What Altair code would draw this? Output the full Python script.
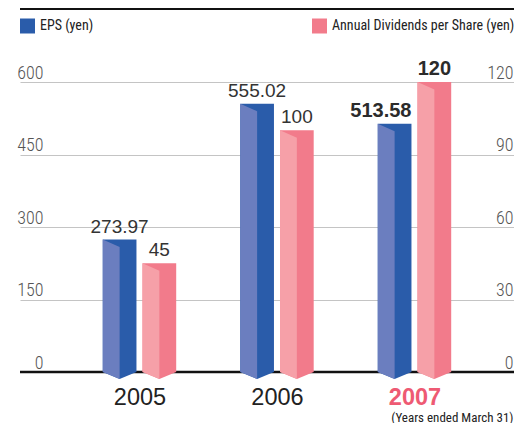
import altair as alt
import pandas as pd

# ---- data ----
years = [2005, 2006, 2007]
eps = [273.97, 555.02, 513.58]
dividends = [45, 100, 120]
eps_labels = ["273.97", "555.02", "513.58"]
div_labels = ["45", "100", "120"]
eps_ticks = [0, 150, 300, 450, 600]
div_ticks = [0, 30, 60, 90, 120]
highlight_year = 2007
eps_name = "EPS (yen)"
div_name = "Annual Dividends per Share (yen)"
footnote = "(Years ended March 31)"

# ---- layout / style ----
W, H = 494, 290
PAD_TOP = 74
PX_PER_YEAR = 137.5
X0 = 2004.131
X_DOMAIN = [X0, X0 + W / PX_PER_YEAR]
EPS_MAX, DIV_MAX = 600, 120
GAP = 0.022
BW = 0.245
SLANT_PX = 7.5
TIP_PX = 7
NARROW = "Roboto Condensed, sans-serif"
SANS = "Liberation Sans, Arial, sans-serif"
EPS_DARK, EPS_LIGHT = "#2a5caa", "#6b7ebf"
DIV_DARK, DIV_LIGHT = "#f27b8b", "#f6a0a8"
HL_COLOR = "#ee5a73"


def faces(values, side, vmax):
    upp = vmax / H
    s = SLANT_PX * upp
    t = TIP_PX * upp
    dark, light = [], []
    for yr, v in zip(years, values):
        L = yr - GAP - BW if side < 0 else yr + GAP
        R = L + BW
        C = (L + R) / 2
        dark += [dict(bar=yr, x=L, top=v, bot=0), dict(bar=yr, x=C, top=v, bot=-t),
                 dict(bar=yr, x=R, top=v, bot=0)]
        light += [dict(bar=yr, x=L, top=v, bot=0), dict(bar=yr, x=C, top=v - s, bot=-t)]
    return pd.DataFrame(dark), pd.DataFrame(light)


def label_frame(values, labels, side):
    rows = []
    for yr, v, lab in zip(years, values, labels):
        L = yr - GAP - BW if side < 0 else yr + GAP
        R = L + BW
        rows.append(dict(year=yr, xc=(L + R) / 2, xr=R, value=v, label=lab,
                         hl=(yr == highlight_year)))
    return pd.DataFrame(rows)


x_axis = alt.Axis(
    values=years, format="d", domain=False, ticks=False, grid=False,
    labelFont=SANS, labelFontSize=23.5, labelPadding=32, labelBaseline="alphabetic",
    labelColor={"condition": {"test": f"datum.value == {highlight_year}", "value": HL_COLOR}, "value": "#222"},
    labelFontWeight={"condition": {"test": f"datum.value == {highlight_year}", "value": "bold"}, "value": "normal"},
    title=footnote, titleFont=NARROW, titleFontSize=13, titleFontWeight="normal",
    titleColor="#222", titleX=W - 1, titleY=49, titleAlign="right", titleBaseline="alphabetic",
)
x_scale = alt.Scale(domain=X_DOMAIN, nice=False, zero=False)

eps_axis = alt.Axis(
    orient="left", values=eps_ticks, title=None, domain=False, ticks=False,
    grid=True, gridColor="#c4c4c4", gridWidth=1.2,
    labelAlign="right", labelPadding=-23, labelBaseline="alphabetic", labelOffset=-4,
    labelFont=NARROW, labelFontSize=18, labelFontWeight=300, labelColor="#555",
)
div_axis = alt.Axis(
    orient="right", values=div_ticks, title=None, domain=False, ticks=False, grid=False,
    labelAlign="right", labelPadding=-1, labelBaseline="alphabetic", labelOffset=-4,
    labelFont=NARROW, labelFontSize=18, labelFontWeight=300, labelColor="#555",
)
eps_scale = alt.Scale(domain=[0, EPS_MAX], nice=False, zero=False)
div_scale = alt.Scale(domain=[0, DIV_MAX], nice=False, zero=False)


def legend(xpos):
    return alt.Legend(orient="none", legendX=xpos, legendY=-63.5, title=None,
                      symbolType="square", symbolSize=225, symbolStrokeWidth=0,
                      symbolOpacity=1, labelFont=NARROW, labelFontSize=14,
                      labelColor="#222", labelOffset=5, padding=0, labelLimit=0)


def series_layer(values, labels, side, vmax, scale, axis, dark_c, light_c, name, leg_x, with_rule):
    dark_df, light_df = faces(values, side, vmax)
    dark_df["series"] = name
    lab_df = label_frame(values, labels, side)
    X = lambda f: alt.X(f, type="quantitative", scale=x_scale, axis=x_axis)
    Y = lambda f: alt.Y(f, type="quantitative", scale=scale, axis=axis)
    layers = []
    if with_rule:
        layers.append(
            alt.Chart(pd.DataFrame({"v": [0]})).mark_rule(color="#111", strokeWidth=2.6)
            .encode(y=Y("v"))
        )
    layers.append(
        alt.Chart(dark_df).mark_area(interpolate="linear").encode(
            x=X("x"), y=Y("top"), y2="bot", detail="bar:N",
            color=alt.Color("series:N", scale=alt.Scale(domain=[name], range=[dark_c]),
                            legend=legend(leg_x)),
        )
    )
    layers.append(
        alt.Chart(light_df).mark_area(interpolate="linear", color=light_c).encode(
            x=X("x"), y=Y("top"), y2="bot", detail="bar:N",
        )
    )
    layers.append(
        alt.Chart(lab_df).transform_filter("!datum.hl")
        .mark_text(baseline="alphabetic", dy=-7, fontSize=19, font=SANS, color="#333")
        .encode(x=X("xc"), y=Y("value"), text="label:N")
    )
    if side < 0:
        hl_text = alt.Chart(lab_df).transform_filter("datum.hl").mark_text(
            baseline="alphabetic", align="right", dy=-7, fontSize=20, font=SANS,
            fontWeight="bold", color="#2b2b2b").encode(x=X("xr"), y=Y("value"), text="label:N")
    else:
        hl_text = alt.Chart(lab_df).transform_filter("datum.hl").mark_text(
            baseline="alphabetic", dy=-7, fontSize=20, font=SANS,
            fontWeight="bold", color="#2b2b2b").encode(x=X("xc"), y=Y("value"), text="label:N")
    layers.append(hl_text)
    return alt.layer(*layers)


top_rule = alt.Chart(pd.DataFrame({"v": [0]})).mark_rule(color="#111", strokeWidth=2.6).encode(
    y=alt.value(8.7 - 8 - PAD_TOP)
)

eps_layer = series_layer(eps, eps_labels, -1, EPS_MAX, eps_scale, eps_axis,
                         EPS_DARK, EPS_LIGHT, eps_name, 0, True)
div_layer = series_layer(dividends, div_labels, 1, DIV_MAX, div_scale, div_axis,
                         DIV_DARK, DIV_LIGHT, div_name, 292, False)

chart = (
    alt.layer(top_rule, eps_layer, div_layer)
    .resolve_scale(y="independent", color="independent")
    .properties(
        width=W, height=H,
        padding={"left": 12, "top": PAD_TOP, "right": 0, "bottom": 415 - PAD_TOP - H},
        autosize=alt.AutoSizeParams(type="none"),
    )
    .configure_view(stroke=None)
)

chart.save("out.html", embed_options={"renderer": "svg", "actions": False})
